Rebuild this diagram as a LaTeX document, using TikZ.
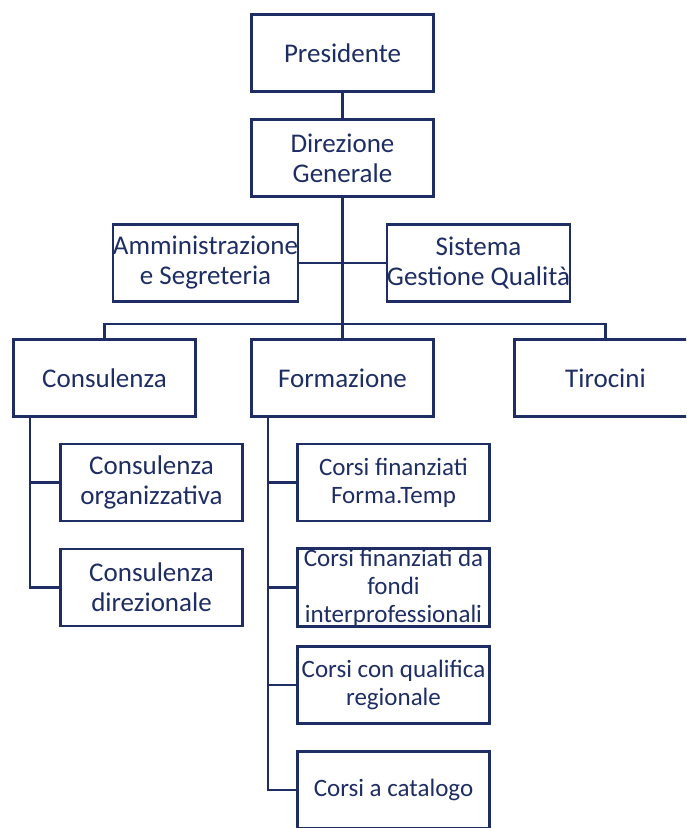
\documentclass[tikz,border=0pt]{standalone}
\usepackage{fontspec}
\setmainfont{Carlito}
\definecolor{navy}{RGB}{30,46,100}
\begin{document}
\begin{tikzpicture}[x=1pt,y=-1pt,
  box/.style={draw=navy,line width=2.8pt,fill=white,rectangle,minimum width=182pt,minimum height=77pt,inner sep=0pt,align=center,text=navy,font=\fontsize{27}{30}\selectfont},
  subbox/.style={box,minimum width=192pt,font=\fontsize{25}{28}\selectfont},
  link/.style={draw=navy,line width=2.4pt}]
\clip (0,0) rectangle (686,828);
\fill[white] (0,0) rectangle (686,828);
\coordinate (bus) at (342.5,324);
\node[box] (pres) at (342.5,53) {Presidente};
\node[box] (dir) at (342.5,158) {Direzione\\Generale};
\node[box] (amm) at (205.5,263) {Amministrazione\\e Segreteria};
\node[box] (sis) at (478.5,263) {Sistema\\Gestione Qualità};
\node[box] (cons) at (104.5,378) {Consulenza};
\node[box] (form) at (342.5,378) {Formazione};
\node[box] (tir) at (605.5,378) {Tirocini};
\node[box] (co1) at (151.5,482.5) {Consulenza\\organizzativa};
\node[box] (co2) at (151.5,587.5) {Consulenza\\direzionale};
\node[subbox] (f1) at (393.5,482.5) {Corsi finanziati\\Forma.Temp};
\node[subbox] (f2) at (393.5,587.5) {Corsi finanziati da\\fondi\\interprofessionali};
\node[subbox] (f3) at (393.5,685) {Corsi con qualifica\\regionale};
\node[subbox] (f4) at (393.5,790) {Corsi a catalogo};
% links
\draw[link] (pres) -- (dir);
\draw[link] (dir.south) -- (form.north);
\draw[link] (amm.east) -- (sis.west);
\draw[link] (cons.north) |- (bus) -| (tir.north);
\coordinate (ca) at ([xshift=18pt]cons.south west);
\draw[link] (ca) |- (co2.west);
\draw[link] (ca |- co1.west) -- (co1.west);
\coordinate (fa) at ([xshift=18pt]form.south west);
\draw[link] (fa) |- (f4.west);
\draw[link] (fa |- f1.west) -- (f1.west);
\draw[link] (fa |- f2.west) -- (f2.west);
\draw[link] (fa |- f3.west) -- (f3.west);
\end{tikzpicture}
\end{document}
